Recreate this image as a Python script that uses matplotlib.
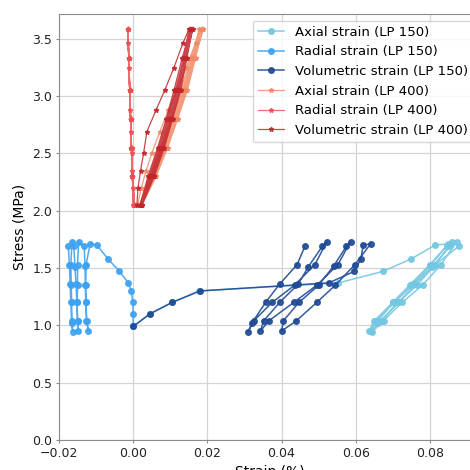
import matplotlib
matplotlib.use('Agg')
import matplotlib.pyplot as plt

# stress path LP 150 (MPa): first loading, then unload/reload cycles
stress_150 = [0.99, 1.10, 1.20, 1.30, 1.37, 1.47, 1.58, 1.70, 1.71,
              1.53, 1.35, 1.20, 1.04, 0.95, 1.04, 1.20, 1.35, 1.52, 1.69, 1.73,
              1.53, 1.35, 1.20, 1.04, 0.95, 1.04, 1.20, 1.36, 1.51, 1.69, 1.73,
              1.53, 1.35, 1.20, 1.04, 0.945, 1.02, 1.20, 1.36, 1.53, 1.69]
axial_150 = [0.0, 0.0045, 0.0105, 0.0178, 0.0553, 0.0673, 0.0750, 0.0814, 0.0850,
             0.0800, 0.0745, 0.0700, 0.0660, 0.0635, 0.0650, 0.0700, 0.0750, 0.0800, 0.0845, 0.0860,
             0.0815, 0.0765, 0.0715, 0.0670, 0.0640, 0.0655, 0.0705, 0.0755, 0.0805, 0.0855, 0.0872,
             0.0830, 0.0780, 0.0725, 0.0675, 0.0645, 0.0660, 0.0715, 0.0760, 0.0815, 0.0878]
radial_150 = [0.0, 0.0, -0.0001, -0.0005, -0.0013, -0.0037, -0.0068, -0.0098, -0.0116,
              -0.0127, -0.0128, -0.0127, -0.0126, -0.0121, -0.0125, -0.0128, -0.0129, -0.0130, -0.0132, -0.0147,
              -0.0150, -0.0150, -0.0151, -0.0150, -0.0149, -0.0150, -0.0152, -0.0154, -0.0157, -0.0160, -0.0165,
              -0.0168, -0.0167, -0.0166, -0.0165, -0.0163, -0.0166, -0.0168, -0.0170, -0.0172, -0.0175]
volumetric_150 = [0.0, 0.0045, 0.0105, 0.0180, 0.0527, 0.0596, 0.0614, 0.0620, 0.0640,
                  0.0598, 0.0545, 0.0495, 0.0440, 0.0400, 0.0405, 0.0447, 0.0500, 0.0541, 0.0575, 0.0586,
                  0.0552, 0.0495, 0.0433, 0.0366, 0.0343, 0.0352, 0.0395, 0.0445, 0.0472, 0.0510, 0.0522,
                  0.0490, 0.0435, 0.0375, 0.0325, 0.0310, 0.0320, 0.0357, 0.0395, 0.0442, 0.0463]

# stress path LP 400 (MPa)
stress_400 = [2.05, 2.20, 2.35, 2.50, 2.69, 2.88, 3.05, 3.24, 3.46, 3.58,
              3.33, 3.05, 2.80, 2.55, 2.30, 2.05, 2.30, 2.55, 2.80, 3.05, 3.33, 3.58,
              3.33, 3.05, 2.80, 2.55, 2.30, 2.05, 2.30, 2.55, 2.80, 3.05, 3.33, 3.58,
              3.33, 3.05, 2.80, 2.55, 2.30, 2.05, 2.30, 2.55, 2.80, 3.05, 3.33, 3.58,
              3.33, 3.05, 2.80, 2.55, 2.30, 2.05, 2.30, 2.55, 2.80, 3.05, 3.33, 3.58]
axial_400 = [0.0012, 0.0022, 0.0035, 0.0050, 0.0072, 0.0095, 0.0118, 0.0142, 0.0168, 0.0178,
             0.0160, 0.0138, 0.0112, 0.0085, 0.0055, 0.0018, 0.0045, 0.0075, 0.0103, 0.0128, 0.0155, 0.0182,
             0.0163, 0.0140, 0.0115, 0.0088, 0.0058, 0.0020, 0.0048, 0.0078, 0.0106, 0.0132, 0.0159, 0.0185,
             0.0166, 0.0143, 0.0118, 0.0090, 0.0060, 0.0022, 0.0050, 0.0080, 0.0108, 0.0135, 0.0162, 0.0187,
             0.0168, 0.0146, 0.0120, 0.0093, 0.0062, 0.0024, 0.0052, 0.0083, 0.0111, 0.0138, 0.0165, 0.0189]
radial_400 = [0.0, -0.00014, -0.00027, -0.00041, -0.00059, -0.00076, -0.00092, -0.00109, -0.00129, -0.0014,
              -0.00117, -0.00092, -0.00069, -0.00046, -0.00023, 0.0001, -0.00022, -0.00045, -0.00069, -0.00093, -0.00118, -0.00141,
              -0.00118, -0.00093, -0.00070, -0.00047, -0.00024, 0.0002, -0.00021, -0.00045, -0.00070, -0.00094, -0.00119, -0.00143,
              -0.00119, -0.00094, -0.00071, -0.00048, -0.00025, 0.0003, -0.00020, -0.00046, -0.00071, -0.00095, -0.00120, -0.00144,
              -0.00120, -0.00095, -0.00072, -0.00049, -0.00026, 0.0004, -0.00020, -0.00047, -0.00072, -0.00096, -0.00121, -0.00146]
volumetric_400 = [0.0010, 0.0013, 0.0020, 0.0028, 0.0037, 0.0062, 0.0085, 0.0109, 0.0134, 0.0150,
                  0.0137, 0.0120, 0.0098, 0.0076, 0.0050, 0.0018, 0.0040, 0.0066, 0.0089, 0.0110, 0.0132, 0.0154,
                  0.0140, 0.0122, 0.0101, 0.0079, 0.0053, 0.0020, 0.0043, 0.0069, 0.0092, 0.0114, 0.0136, 0.0157,
                  0.0143, 0.0125, 0.0104, 0.0081, 0.0055, 0.0022, 0.0045, 0.0071, 0.0094, 0.0117, 0.0139, 0.0159,
                  0.0145, 0.0128, 0.0106, 0.0084, 0.0057, 0.0024, 0.0047, 0.0074, 0.0097, 0.0120, 0.0142, 0.0161]

series_labels = ['Axial strain (LP 150)', 'Radial strain (LP 150)', 'Volumetric strain (LP 150)',
                 'Axial strain (LP 400)', 'Radial strain (LP 400)', 'Volumetric strain (LP 400)']
colors = ['#74c7e2', '#3ea2f2', '#1f4a94', '#f08a66', '#ee4f52', '#c2262c']

fig = plt.figure(figsize=(4.7, 4.7), dpi=100)
# axes run a little past the right edge, as in the reference
ax = fig.add_axes([59 / 470, 30 / 470, 421 / 470, 426 / 470])

for strain, c, lab in zip([axial_150, radial_150, volumetric_150], colors[:3], series_labels[:3]):
    ax.plot(strain, stress_150, marker='o', markersize=4, lw=1.1, color=c, alpha=0.9, label=lab)
for strain, c, lab in zip([axial_400, radial_400, volumetric_400], colors[3:], series_labels[3:]):
    ax.plot(strain, stress_400, marker='*', markersize=3.5, lw=0.9, color=c, alpha=0.85, label=lab)

ax.set_xlim(-0.02, 0.0935)
ax.set_ylim(0, 3.715)
ax.set_xticks([-0.02, 0.0, 0.02, 0.04, 0.06, 0.08])
ax.set_yticks([0.0, 0.5, 1.0, 1.5, 2.0, 2.5, 3.0, 3.5])
ax.grid(True, color='#d4d4d4', lw=0.9)
ax.set_axisbelow(True)
for s in ax.spines.values():
    s.set_color('#8c8c8c')
ax.tick_params(colors='#8c8c8c', labelcolor='#222222', labelsize=9, length=2.5, pad=2.5)

ax.set_xlabel('Strain (%)', fontsize=10, labelpad=3)
ax.set_ylabel('Stress (MPa)', fontsize=10, labelpad=4)
ax.legend(loc='upper right', fontsize=9.5, handlelength=2.0)

fig.savefig('out.png', dpi=100)
